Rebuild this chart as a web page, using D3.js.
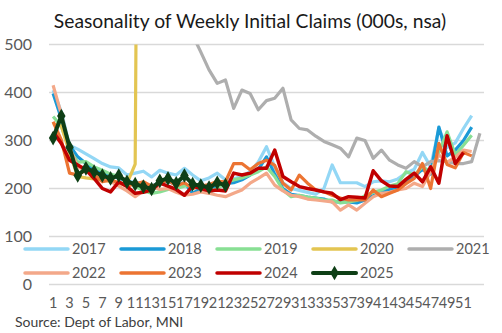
<!DOCTYPE html>
<html><head><meta charset="utf-8">
<script src="https://cdn.jsdelivr.net/npm/d3@7"></script>
<style>html,body{margin:0;padding:0;background:#fff;}svg{display:block;}</style>
</head><body>
<svg id="c" width="502" height="333"></svg>
<script>
const title = "Seasonality of Weekly Initial Claims (000s, nsa)";
const source = "Source: Dept of Labor, MNI";
const weeks = d3.range(1, 54);
const yTicks = [0, 100, 200, 300, 400, 500];
const xTickLabels = [1,3,5,7,9,11,13,15,17,19,21,23,25,27,29,31,33,35,37,39,41,43,45,47,49,51];
const seriesNames = ["2017","2018","2019","2020","2021","2022","2023","2024","2025"];
const seriesColors = ["#93d7f5","#1b9ad6","#88df94","#e3c552","#aeaeae","#f3a889","#ec7432","#c00000","#0e3f16"];

const v2017 = [405,360,290,282,272,262,252,245,243,228,232,236,224,238,232,228,242,228,216,222,232,218,220,225,235,255,287,245,212,200,196,192,188,200,249,212,212,212,204,214,216,214,220,232,240,275,245,325,285,295,325,352];
const v2018 = [398,346,290,266,252,240,232,226,222,215,212,210,205,212,215,208,212,190,200,205,202,210,212,218,228,240,266,230,200,188,185,182,180,178,172,172,172,170,176,185,192,198,200,215,225,240,230,328,268,280,300,328];
const v2019 = [350,330,280,255,256,245,238,230,225,215,205,195,190,193,198,200,205,207,200,192,200,212,218,222,228,235,245,225,197,183,186,182,180,176,176,170,172,175,185,192,197,205,210,235,228,245,235,275,318,270,290,311];
const v2020 = [335,330,275,225,222,220,218,215,212,210,251,2920,6015,6211,4965,4268,3446,2848,2453,2174,1878,1697,1500,1437,1415,1313,1400,1500,1369,1187,1191,990,1080,832,866,824,790,825,779,737,810,743,753,730,729,821,778,787,947,961,884,842,920];
const v2021 = [922,1151,1012,998,986,878,843,759,802,787,726,688,750,626,567,543,567,520,484,447,419,426,367,405,398,364,383,388,409,343,325,322,309,298,291,284,266,305,300,263,280,259,249,242,256,245,256,258,256,252,252,256,315];
const v2022 = [415,355,285,245,238,232,222,215,205,195,183,195,205,198,200,192,186,188,193,190,186,183,190,197,211,221,232,207,195,186,183,178,176,174,172,155,166,155,169,183,190,192,197,200,211,204,235,270,255,265,280,277];
const v2023 = [339,301,232,228,239,228,214,218,212,205,210,214,205,210,218,205,212,200,205,208,215,214,252,252,239,252,259,248,211,197,228,211,197,193,186,180,176,176,176,197,183,190,197,210,221,252,200,294,250,243,275,268];
const v2024 = [318,294,259,249,239,221,200,193,214,204,190,192,197,211,205,198,186,205,200,195,197,195,232,228,232,242,242,280,225,214,204,200,197,193,190,177,183,182,180,237,216,205,204,219,232,214,245,211,310,252,275];
const v2025 = [305,351,286,227,242,235,227,221,227,214,209,204,199,216,221,211,227,209,206,202,212,207];
const seriesValues = [v2017,v2018,v2019,v2020,v2021,v2022,v2023,v2024,v2025];

const svg = d3.select("#c");
const FONT = "Lato, 'Open Sans', sans-serif";
const x = d3.scaleBand().domain(weeks).range([49, 484]);
const xc = w => x(w) + x.bandwidth() / 2;
const y = d3.scaleLinear().domain([0, 500]).range([284.5, 44.5]);

svg.append("defs").append("clipPath").attr("id","clip")
  .append("rect").attr("x", 40).attr("y", y(500)).attr("width", 462).attr("height", y(0) - y(500) + 10);

// gridlines
svg.append("g").selectAll("line").data(yTicks).join("line")
  .attr("x1", 49).attr("x2", 484)
  .attr("y1", d => y(d)).attr("y2", d => y(d))
  .attr("stroke", "#d9d9d9").attr("stroke-width", 1.5);

// y axis labels
const yAxis = d3.axisLeft(y).tickValues(yTicks).tickSize(0).tickPadding(0);
const gy = svg.append("g").attr("transform", "translate(32,0)").call(yAxis);
gy.select(".domain").remove();
gy.selectAll("text").attr("font-family", FONT).attr("font-size", 16).attr("fill", "#595959");

// x axis labels
const xAxis = d3.axisBottom(x).tickValues(xTickLabels).tickSize(0).tickPadding(0);
const gx = svg.append("g").attr("transform", "translate(0,298)").call(xAxis);
gx.select(".domain").remove();
gx.selectAll("text").attr("font-family", FONT).attr("font-size", 14.5).attr("fill", "#595959");

// lines
const line = d3.line().defined(d => d.v != null).x(d => xc(d.w)).y(d => y(d.v));
const gl = svg.append("g").attr("clip-path", "url(#clip)");
seriesNames.forEach((name, i) => {
  const pts = seriesValues[i].map((v, k) => ({w: weeks[k], v}));
  gl.append("path").datum(pts)
    .attr("fill", "none")
    .attr("stroke", seriesColors[i])
    .attr("stroke-width", name === "2025" ? 4 : (name === "2024" ? 3.5 : 3.2))
    .attr("stroke-linejoin", "round")
    .attr("d", line);
});
// 2025 markers
const diamond = d3.symbol().type(d3.symbolDiamond).size(62);
gl.append("g").selectAll("path").data(v2025.map((v, k) => ({w: weeks[k], v}))).join("path")
  .attr("transform", d => `translate(${xc(d.w)},${y(d.v)})`)
  .attr("d", diamond)
  .attr("fill", seriesColors[8]);

// legend
const legX = [25, 121, 217, 313, 409];
const legY = [249, 273];
const lg = svg.append("g");
seriesNames.forEach((name, i) => {
  const row = Math.floor(i / 5), col = i % 5;
  const gx0 = legX[col], gy0 = legY[row];
  const g = lg.append("g").attr("transform", `translate(${gx0},${gy0})`);
  g.append("line").attr("x1", 0).attr("x2", 43).attr("y1", 0).attr("y2", 0)
    .attr("stroke", seriesColors[i]).attr("stroke-width", name === "2025" ? 4 : 3.5)
    .attr("stroke-linecap", "round");
  if (name === "2025") {
    g.append("path").attr("transform", "translate(21.5,0)").attr("d", diamond).attr("fill", seriesColors[i]);
  }
  g.append("text").attr("x", 47).attr("y", 5.3).text(name)
    .attr("font-family", FONT).attr("font-size", 14.5).attr("fill", "#595959");
});

// title
svg.append("text").attr("x", 250).attr("y", 28).attr("text-anchor", "middle")
  .attr("font-family", FONT).attr("font-size", 19.3).attr("fill", "#1a1a1a").text(title);
// source
svg.append("text").attr("x", 15).attr("y", 327)
  .attr("font-family", FONT).attr("font-size", 14).attr("fill", "#404040").text(source);
</script>
</body></html>
